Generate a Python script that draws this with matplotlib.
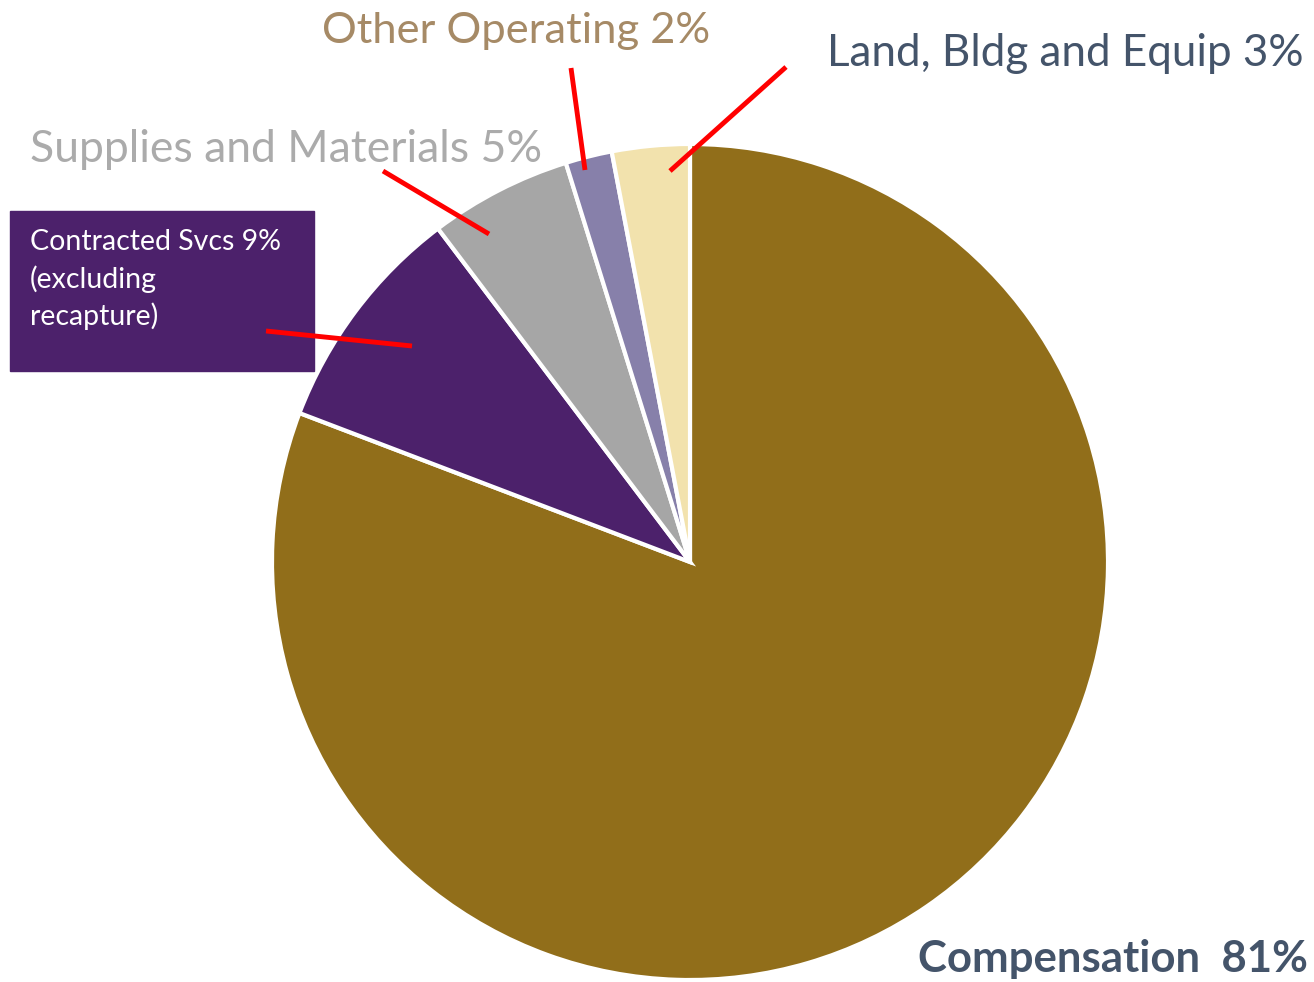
import matplotlib

matplotlib.use("Agg")

import matplotlib.pyplot as plt

# -- data -------------------------------------------------------------------
CATEGORIES = ["Compensation", "Contracted Svcs", "Supplies and Materials",
              "Other Operating", "Land, Bldg and Equip"]
SHARES = [80.8, 8.9, 5.5, 1.8, 3.0]
COLORS = ["#916E1A", "#4C216B", "#A6A6A6", "#8780AA", "#F2E2AD"]

W, H = 1314, 982
SLATE = "#44546A"
RED = "#FF0000"

plt.rcParams["font.family"] = ["Lato", "DejaVu Sans"]

fig = plt.figure(figsize=(W / 100, H / 100), dpi=100, facecolor="white")
ax = fig.add_axes([0, 0, 1, 1])


def py(y):
    # pixel row (top-down) -> data y
    return H - y


ax.pie(
    SHARES,
    colors=COLORS,
    startangle=90,
    counterclock=False,
    center=(690, py(562)),
    radius=418,
    frame=True,
    wedgeprops=dict(edgecolor="white", linewidth=3),
)
ax.set_xlim(0, W)
ax.set_ylim(0, H)
ax.set_aspect("equal")
ax.axis("off")

# leader lines (pixel coords, top-down)
leaders = [
    ((571, 68), (585, 170)),
    ((786, 67), (670, 171)),
    ((383, 171), (489, 234)),
    ((266, 331), (412, 346)),
]

# contracted services box
ax.add_patch(plt.Rectangle((10, py(371)), 304, 160, color="#4C216B", zorder=3))
for line, base in zip(["Contracted Svcs 9%", "(excluding", "recapture)"],
                      [250, 288, 325]):
    ax.text(30, py(base), line, color="white", fontsize=20.5,
            ha="left", va="baseline", zorder=4)

for (x0, y0), (x1, y1) in leaders:
    ax.plot([x0, x1], [py(y0), py(y1)], color=RED, linewidth=3.5, zorder=5,
            solid_capstyle="butt")

ax.text(322, py(43), "Other Operating 2%", color="#A68A66", fontsize=31.3,
        ha="left", va="baseline")
ax.text(827, py(66), "Land, Bldg and Equip 3%", color=SLATE, fontsize=31.7,
        ha="left", va="baseline")
ax.text(30, py(162), "Supplies and Materials 5%", color="#ABABAB", fontsize=32,
        ha="left", va="baseline")
ax.text(918, py(972), "Compensation  81%", color=SLATE, fontsize=31.5,
        fontweight="bold", ha="left", va="baseline")

fig.savefig("out.png", dpi=100, facecolor="white")
